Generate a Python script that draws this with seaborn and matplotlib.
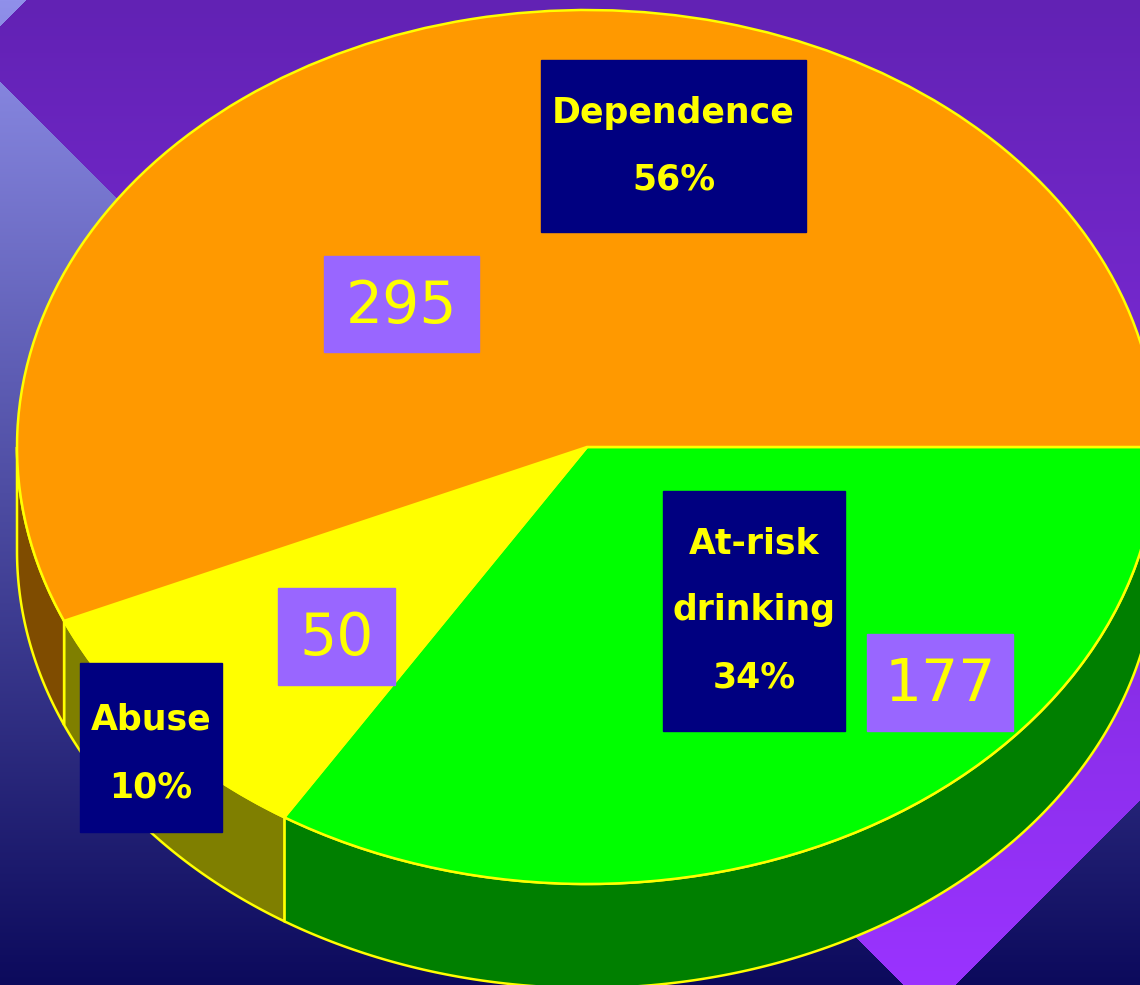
import numpy as np
import matplotlib
matplotlib.use('Agg')
import matplotlib.pyplot as plt
from matplotlib.patches import Rectangle
import seaborn as sns

# data (clockwise from 3 o'clock)
categories = ['At-risk\ndrinking', 'Abuse', 'Dependence']
counts = [177, 50, 295]
percents = [34, 10, 56]
top_colors = ['#00ff00', '#ffff00', '#ff9900']
side_colors = ['#007f00', '#7f7f00', '#7f4c00']

W, H = 1140, 985
sns.set_theme(style='white')
plt.rcParams['font.family'] = ['DejaVu Sans']

fig = plt.figure(figsize=(W / 100, H / 100), dpi=100)

# background: blue gradient with a purple diagonal band
bg = fig.add_axes([0, 0, 1, 1])
bg.axis('off')
yy, xx = np.mgrid[0:H, 0:W]
t = (yy / (H - 1))[..., None]
blue = (1 - t) * np.array([0x90, 0x90, 0xea]) + t * np.array([0x0c, 0x0a, 0x5c])
purple = (1 - t) * np.array([0x62, 0x22, 0xb4]) + t * np.array([0x9a, 0x33, 0xff])
band = ((yy - xx) < 82) & ((xx + yy) > 25) & ((xx + yy) < 1940)
img = np.where(band[..., None], purple, blue) / 255
bg.imshow(img, extent=(0, W, H, 0), aspect='auto', interpolation='nearest')
bg.set_xlim(0, W)
bg.set_ylim(H, 0)

# pie top face
ax = fig.add_axes([0, 0, 1, 1])
ax.set_facecolor('none')
wedges, _ = ax.pie(counts, colors=top_colors, startangle=0, counterclock=False,
                   wedgeprops=dict(edgecolor='#ffff00', linewidth=1.8))
ax.set_aspect('auto')
ax.axis('off')
rx, ry, cx, cy = 570, 437, 587, 447
ax.set_xlim(-cx / rx, (W - cx) / rx)
ax.set_ylim(-(H - cy) / ry, cy / ry)

# pie side (front half only)
frac = np.array(counts) / sum(counts)
bounds = -360 * np.concatenate([[0], np.cumsum(frac)])
depth = 104 / ry
for i in range(len(counts)):
    lo, hi = max(bounds[i + 1], -180), min(bounds[i], 0)
    if lo >= hi:
        continue
    th = np.radians(np.linspace(lo, hi, 200))
    xs, ys = np.cos(th), np.sin(th)
    ax.fill(np.r_[xs, xs[::-1]], np.r_[ys, ys[::-1] - depth],
            color=side_colors[i], ec='#ffff00', lw=1.8, zorder=0.5)

# label boxes (pixel coordinates)
ov = fig.add_axes([0, 0, 1, 1])
ov.set_facecolor('none')
ov.axis('off')
ov.set_xlim(0, W)
ov.set_ylim(H, 0)

name_boxes = [(663, 491, 845, 731), (80, 663, 222, 832), (541, 60, 806, 232)]
name_lines_y = [[543, 610, 678], [720, 788], [113, 180]]
count_boxes = [(867, 634, 1013, 731), (278, 588, 395, 685), (324, 256, 479, 352)]

for i in range(len(counts)):
    x0, y0, x1, y1 = name_boxes[i]
    ov.add_patch(Rectangle((x0, y0), x1 - x0, y1 - y0, color='#000080', zorder=3))
    lines = categories[i].split('\n') + [f'{percents[i]}%']
    for txt, ly in zip(lines, name_lines_y[i]):
        ov.text((x0 + x1) / 2, ly, txt, ha='center', va='center', color='#ffff00',
                fontsize=25, fontweight='bold', zorder=4)

    x0, y0, x1, y1 = count_boxes[i]
    ov.add_patch(Rectangle((x0, y0), x1 - x0, y1 - y0, color='#9966ff', zorder=3))
    ov.text((x0 + x1) / 2, (y0 + y1) / 2 + 2, str(counts[i]), ha='center', va='center',
            color='#ffff00', fontsize=42, zorder=4)

fig.savefig('out.png', dpi=100)
